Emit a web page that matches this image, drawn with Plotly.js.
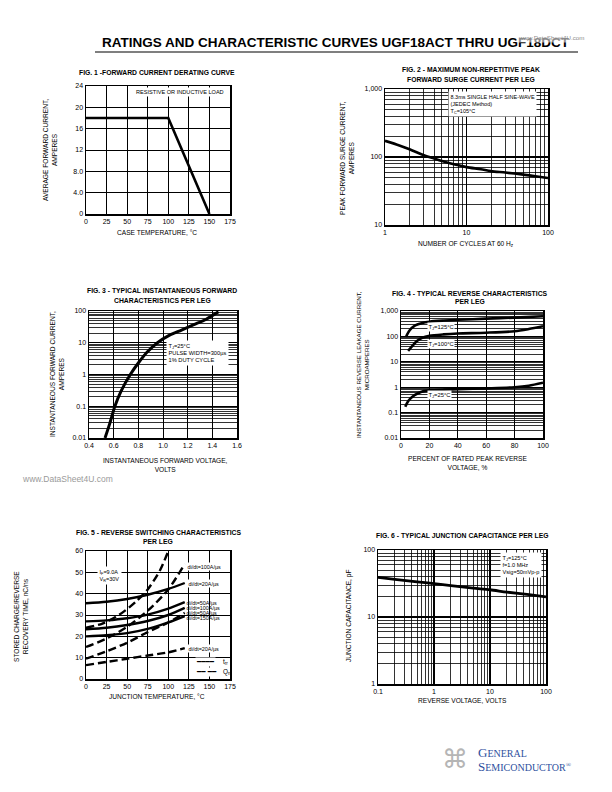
<!DOCTYPE html>
<html><head><meta charset="utf-8">
<script src="https://cdn.plot.ly/plotly-3.0.1.min.js"></script>
<style>html,body{margin:0;padding:0;background:#fff}#chart{width:612px;height:792px}</style>
</head><body><div id="chart"></div>
<script>
// ---------- DATA ----------
// Fig. 1 forward current derating
const fig1Temp = [0, 100, 150];
const fig1Current = [18, 18, 0];
const fig1XTicks = [0, 25, 50, 75, 100, 125, 150, 175];
const fig1YTickVals = [0, 4, 8, 12, 16, 20, 24];
const fig1YTickText = ['0', '4.0', '8.0', '12', '16', '20', '24'];

// Fig. 2 surge current
const fig2Cycles = [1, 1.5, 2, 3, 4, 5, 7, 10, 15, 20, 30, 50, 70, 100];
const fig2Surge = [173, 148, 130, 106, 95, 87, 78, 71, 66, 62, 59, 55, 52, 49];
const fig2XTickVals = [1, 10, 100];
const fig2XTickText = ['1', '10', '100'];
const fig2YTickVals = [10, 100, 1000];
const fig2YTickText = ['10', '100', '1,000'];

// Fig. 3 forward characteristics
const fig3Voltage = [0.53, 0.57, 0.61, 0.66, 0.735, 0.80, 0.87, 0.955, 1.05, 1.15, 1.25, 1.35, 1.45];
const fig3Current = [0.01, 0.03, 0.1, 0.3, 1, 2.3, 5, 10, 17, 25, 37, 55, 95];
const fig3XTickVals = [0.4, 0.6, 0.8, 1.0, 1.2, 1.4, 1.6];
const fig3XTickText = ['0.4', '0.6', '0.8', '1.0', '1.2', '1.4', '1.6'];
const fig3YTickVals = [0.01, 0.1, 1, 10, 100];
const fig3YTickText = ['0.01', '0.1', '1', '10', '100'];

// Fig. 4 reverse characteristics
const fig4Pct125 = [3.5, 6, 10, 15, 20, 30, 40, 60, 80, 100];
const fig4Leak125 = [95, 170, 270, 340, 380, 420, 450, 500, 550, 620];
const fig4Pct100 = [5, 8, 11, 15, 20, 30, 40, 60, 80, 90, 100];
const fig4Leak100 = [27, 42, 65, 88, 105, 120, 130, 140, 160, 195, 250];
const fig4Pct25 = [3, 5, 8, 12, 16, 20, 30, 40, 60, 80, 90, 100];
const fig4Leak25 = [0.17, 0.28, 0.42, 0.58, 0.70, 0.75, 0.80, 0.83, 0.90, 1.0, 1.15, 1.5];
const fig4XTicks = [0, 20, 40, 60, 80, 100];
const fig4YTickVals = [0.01, 0.1, 1, 10, 100, 1000];
const fig4YTickText = ['0.01', '0.1', '1', '10', '100', '1,000'];

// Fig. 5 reverse switching
const fig5Temp = [0, 25, 50, 75, 100, 120];
const fig5Trr20 = [35.5, 36.2, 37.5, 39.5, 42.2, 45];
const fig5Trr50 = [27, 27.5, 28.5, 30.2, 33, 36];
const fig5Trr100 = [23.3, 24, 25.3, 27.2, 30, 33.3];
const fig5Trr150 = [20, 20.5, 21.5, 23.5, 26.5, 29.5];
const fig5TempSteep = [0, 20, 40, 60, 75, 90, 100];
const fig5QrrSteep = [24, 26, 30, 36, 42, 51, 60];
const fig5Qrr100 = [15, 19, 24.5, 32, 42, 54];
const fig5Qrr50 = [9.5, 13, 17, 22, 26.5, 31];
const fig5Qrr20 = [6.5, 8, 9.5, 11, 12.5, 14.5];
const fig5XTicks = [0, 25, 50, 75, 100, 125, 150, 175];
const fig5YTicks = [0, 10, 20, 30, 40, 50, 60];

// Fig. 6 junction capacitance
const fig6Voltage = [0.1, 0.2, 0.5, 1, 2, 5, 10, 20, 50, 100];
const fig6Cap = [39, 36.5, 33.5, 31.5, 29.5, 27, 25.5, 23.5, 21.5, 20];
const fig6XTickVals = [0.1, 1, 10, 100];
const fig6XTickText = ['0.1', '1', '10', '100'];
const fig6YTickVals = [1, 10, 100];
const fig6YTickText = ['1', '10', '100'];

// ---------- HELPERS ----------
const W = 612, H = 792;
const FONT = '"Liberation Sans", Arial, Helvetica, sans-serif';
const fx = v => v / W;
const fy = v => 1 - v / H;

function axis(opts) {
  const a = {
    domain: opts.domain, range: opts.range, type: opts.type || 'linear',
    anchor: opts.anchor, showline: true, mirror: true, linecolor: '#000', linewidth: 1.5,
    showgrid: true, gridcolor: '#000', gridwidth: opts.log ? 1.2 : 1, zeroline: false, ticks: '',
    tickmode: 'array', tickvals: opts.tickvals, ticktext: opts.ticktext || opts.tickvals.map(String),
    tickfont: {family: FONT, size: 7, color: '#000'}, fixedrange: true
  };
  if (opts.log) a.minor = {dtick: 'D1', showgrid: true, gridcolor: '#000', gridwidth: 0.8, ticks: ''};
  return a;
}

function curve(x, y, xa, ya, w, dash, shape) {
  return {x, y, xaxis: xa, yaxis: ya, type: 'scatter', mode: 'lines', hoverinfo: 'skip',
    line: {color: '#000', width: w, dash: dash || 'solid', shape: shape || 'spline', smoothing: 0.8}};
}

const DASH = '8px,4px';
const data = [
  curve(fig1Temp, fig1Current, 'x', 'y', 2.6, 'solid', 'linear'),
  curve(fig2Cycles, fig2Surge, 'x2', 'y2', 2.6),
  curve(fig3Voltage, fig3Current, 'x3', 'y3', 3),
  curve(fig4Pct125, fig4Leak125, 'x4', 'y4', 2.6),
  curve(fig4Pct100, fig4Leak100, 'x4', 'y4', 2.6),
  curve(fig4Pct25, fig4Leak25, 'x4', 'y4', 2.6),
  curve(fig5Temp, fig5Trr20, 'x5', 'y5', 2.4),
  curve(fig5Temp, fig5Trr50, 'x5', 'y5', 2.4),
  curve(fig5Temp, fig5Trr100, 'x5', 'y5', 2.4),
  curve(fig5Temp, fig5Trr150, 'x5', 'y5', 2.4),
  curve(fig5TempSteep, fig5QrrSteep, 'x5', 'y5', 2.4, DASH),
  curve(fig5Temp, fig5Qrr100, 'x5', 'y5', 2.4, DASH),
  curve(fig5Temp, fig5Qrr50, 'x5', 'y5', 2.4, DASH),
  curve(fig5Temp, fig5Qrr20, 'x5', 'y5', 2.4, DASH),
  curve(fig6Voltage, fig6Cap, 'x6', 'y6', 2.8)
];

function txt(text, x, y, size, extra) {
  return Object.assign({text, xref: 'paper', yref: 'paper', x: fx(x), y: fy(y), showarrow: false,
    font: {family: FONT, size: size, color: '#000'}, xanchor: 'center', yanchor: 'middle'}, extra || {});
}
function title(text, x, y) { return txt('<b>' + text + '</b>', x, y, 6.8); }
function ytitle(text, x, y, size) { return txt(text, x, y, size || 6.6, {textangle: -90}); }
function box(text, x, y, size, extra) {
  return txt(text, x, y, size, Object.assign({xanchor: 'left', yanchor: 'top', align: 'left', bgcolor: '#fff', borderpad: 1.5}, extra || {}));
}
function lab(text, x, y, bg, size) {
  const o = {xanchor: 'left', borderpad: 0.5};
  if (bg) o.bgcolor = '#fff';
  return txt(text, x, y, size || 5.4, o);
}
const SYM = {family: '"DejaVu Sans", sans-serif', size: 7, color: '#000'};

const annotations = [
  txt('<b>RATINGS AND CHARACTERISTIC CURVES UGF18ACT THRU UGF18DCT</b>', 336, 43, 13.5),
  txt('www.DataSheet4U.com', 551, 37, 6.2, {font: {family: FONT, size: 6.2, color: '#8a8a8a'}, bgcolor: 'rgba(255,255,255,0.55)'}),
  // figure titles
  title('FIG. 1 -FORWARD CURRENT DERATING CURVE', 157, 72),
  title('FIG. 2 - MAXIMUM NON-REPETITIVE PEAK', 471, 70),
  title('FORWARD SURGE CURRENT PER LEG', 471, 80),
  title('FIG. 3 - TYPICAL INSTANTANEOUS FORWARD', 162, 290),
  title('CHARACTERISTICS PER LEG', 162, 300),
  title('FIG. 4 - TYPICAL REVERSE CHARACTERISTICS', 470, 293),
  title('PER LEG', 470, 302),
  title('FIG. 5 - REVERSE SWITCHING CHARACTERISTICS', 158, 532),
  title('PER LEG', 158, 541),
  title('FIG. 6 - TYPICAL JUNCTION CAPACITANCE PER LEG', 462, 535),
  // axis titles
  ytitle('AVERAGE FORWARD CURRENT,<br>AMPERES', 50, 150),
  txt('CASE TEMPERATURE, °C', 157, 233, 6.6),
  ytitle('PEAK FORWARD SURGE CURRENT,<br>AMPERES', 347, 158),
  txt('NUMBER OF CYCLES AT 60 H<sub>z</sub>', 466, 244, 6.6),
  ytitle('INSTANTANEOUS FORWARD CURRENT,<br>AMPERES', 57, 374),
  txt('INSTANTANEOUS FORWARD VOLTAGE,<br>VOLTS', 165, 465, 6.6),
  ytitle('INSTANTANEOUS REVERSE LEAKAGE CURRENT,<br>MICROAMPERES', 362, 365, 6.2),
  txt('PERCENT OF RATED PEAK REVERSE<br>VOLTAGE, %', 468, 463, 6.6),
  ytitle('STORED CHARGE/REVERSE<br>RECOVERY TIME, nC/ns', 21, 617),
  txt('JUNCTION TEMPERATURE, °C', 157, 696, 6.6),
  ytitle('JUNCTION CAPACITANCE, pF', 349, 616),
  txt('REVERSE VOLTAGE, VOLTS', 462, 700, 6.6),
  // in-plot notes
  txt('RESISTIVE OR INDUCTIVE LOAD', 180, 92, 5.6, {bgcolor: '#fff', borderpad: 1}),
  box('8.3ms SINGLE HALF SINE-WAVE<br>(JEDEC Method)<br>T<sub>C</sub>=105°C', 448, 91, 5.5),
  box('T<sub>J</sub>=25°C<br>PULSE WIDTH=300µs<br>1% DUTY CYCLE', 166, 340, 5.7),
  lab('T<sub>J</sub>=125°C', 427, 327, true, 5.8),
  lab('T<sub>J</sub>=100°C', 427, 344, true, 5.8),
  lab('T<sub>J</sub>=25°C', 427, 395, true, 5.8),
  box('I<sub>F</sub>=9.0A<br>V<sub>R</sub>=30V', 97, 566, 5.5),
  lab('di/dt=100A/µs', 186, 566, true),
  lab('di/dt=20A/µs', 187, 583, true),
  lab('di/dt=50A/µs', 185, 602.5),
  lab('di/dt=100A/µs', 185, 607.5),
  lab('di/dt=50A/µs', 185, 612.5),
  lab('di/dt=150A/µs', 185, 617.5),
  lab('di/dt=20A/µs', 187, 648, true),
  txt('<b>━━━━</b>', 195, 662, 7, {xanchor: 'left', bgcolor: '#fff', borderpad: 0, font: SYM}),
  txt('<b>━━ ━━</b>', 195, 672, 7, {xanchor: 'left', bgcolor: '#fff', borderpad: 0, font: SYM}),
  txt('t<sub>rr</sub>', 221, 662, 6.4, {xanchor: 'left'}),
  txt('Q<sub>rr</sub>', 221, 672, 6.4, {xanchor: 'left'}),
  box('T<sub>J</sub>=125°C<br>f=1.0 MHz<br>Vsig=50mVp-p', 500, 552, 5.6),
  // watermark & logo
  txt('www.DataSheet4U.com', 67, 479, 8.5, {font: {family: FONT, size: 8.5, color: '#9a9a9a'}}),
  txt('⌘', 455, 759, 26, {font: {family: '"DejaVu Sans", sans-serif', size: 26, color: '#b5b5b5'}}),
  txt('<span style="font-size:13px">G</span>ENERAL', 476, 752, 10, {xanchor: 'left', font: {family: '"Liberation Serif", "Times New Roman", serif', size: 10, color: '#2d4f9e'}}),
  txt('<span style="font-size:13px">S</span>EMICONDUCTOR<sup>®</sup>', 476, 766, 10, {xanchor: 'left', font: {family: '"Liberation Serif", "Times New Roman", serif', size: 10, color: '#2d4f9e'}})
];

const layout = {
  width: W, height: H, margin: {l: 0, r: 0, t: 0, b: 0},
  paper_bgcolor: '#fff', plot_bgcolor: '#fff', showlegend: false,
  font: {family: FONT, size: 7, color: '#000'},
  xaxis: axis({domain: [fx(86), fx(230)], range: [0, 175], anchor: 'y', tickvals: fig1XTicks}),
  yaxis: axis({domain: [fy(214), fy(86)], range: [0, 24], anchor: 'x', tickvals: fig1YTickVals, ticktext: fig1YTickText}),
  xaxis2: axis({domain: [fx(385), fx(548)], range: [0, 2], type: 'log', log: true, anchor: 'y2', tickvals: fig2XTickVals, ticktext: fig2XTickText}),
  yaxis2: axis({domain: [fy(225), fy(89)], range: [1, 3], type: 'log', log: true, anchor: 'x2', tickvals: fig2YTickVals, ticktext: fig2YTickText}),
  xaxis3: axis({domain: [fx(89), fx(237)], range: [0.4, 1.6], anchor: 'y3', tickvals: fig3XTickVals, ticktext: fig3XTickText}),
  yaxis3: axis({domain: [fy(438), fy(311)], range: [-2, 2], type: 'log', log: true, anchor: 'x3', tickvals: fig3YTickVals, ticktext: fig3YTickText}),
  xaxis4: axis({domain: [fx(401), fx(543)], range: [0, 100], anchor: 'y4', tickvals: fig4XTicks}),
  yaxis4: axis({domain: [fy(438), fy(311)], range: [-2, 3], type: 'log', log: true, anchor: 'x4', tickvals: fig4YTickVals, ticktext: fig4YTickText}),
  xaxis5: axis({domain: [fx(86), fx(230)], range: [0, 175], anchor: 'y5', tickvals: fig5XTicks}),
  yaxis5: axis({domain: [fy(679), fy(551)], range: [0, 60], anchor: 'x5', tickvals: fig5YTicks}),
  xaxis6: axis({domain: [fx(378), fx(546)], range: [-1, 2], type: 'log', log: true, anchor: 'y6', tickvals: fig6XTickVals, ticktext: fig6XTickText}),
  yaxis6: axis({domain: [fy(684), fy(550)], range: [0, 2], type: 'log', log: true, anchor: 'x6', tickvals: fig6YTickVals, ticktext: fig6YTickText}),
  annotations,
  shapes: [
    {type: 'line', xref: 'paper', yref: 'paper', x0: fx(95), x1: fx(578), y0: fy(52), y1: fy(52), line: {color: '#000', width: 1.2}}
  ]
};

Plotly.newPlot('chart', data, layout, {staticPlot: true, displayModeBar: false});
</script>
</body></html>
